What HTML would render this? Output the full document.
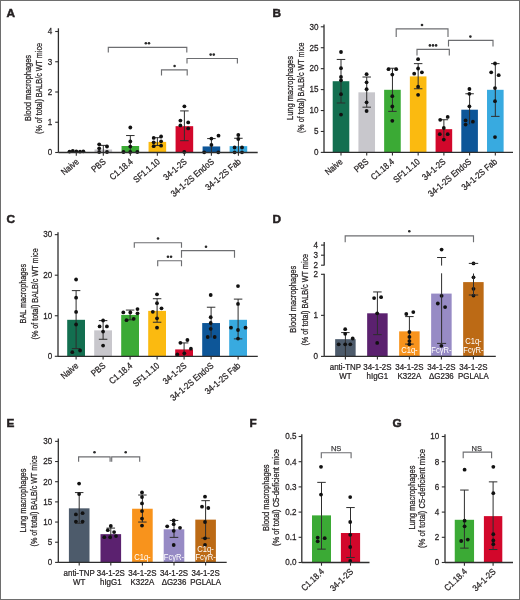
<!DOCTYPE html>
<html><head><meta charset="utf-8"><style>
html,body{margin:0;padding:0;background:#fff;}
body{width:520px;height:600px;overflow:hidden;}
svg{display:block;font-family:"Liberation Sans", sans-serif;will-change:transform;}
text{stroke-width:0.25px;}
</style></head><body>
<svg width="520" height="600" viewBox="0 0 520 600">
<rect x="0" y="0" width="520" height="600" fill="#fff"/>
<rect x="67.50" y="151.59" width="17.60" height="0.91" fill="#136f50"/>
<rect x="94.52" y="149.47" width="17.60" height="3.03" fill="#c8c7cc"/>
<rect x="121.54" y="146.00" width="17.60" height="6.50" fill="#3baa35"/>
<rect x="148.56" y="141.91" width="17.60" height="10.59" fill="#fbba10"/>
<rect x="175.58" y="126.18" width="17.60" height="26.32" fill="#d2072b"/>
<rect x="202.60" y="146.45" width="17.60" height="6.05" fill="#0d5698"/>
<rect x="229.62" y="146.15" width="17.60" height="6.35" fill="#38aae0"/>
<line x1="103.32" y1="145.39" x2="103.32" y2="152.50" stroke="#2e2e2e" stroke-width="1.0"/>
<line x1="99.07" y1="145.39" x2="107.57" y2="145.39" stroke="#2e2e2e" stroke-width="1.0"/>
<line x1="130.34" y1="135.56" x2="130.34" y2="152.50" stroke="#2e2e2e" stroke-width="1.0"/>
<line x1="126.09" y1="135.56" x2="134.59" y2="135.56" stroke="#2e2e2e" stroke-width="1.0"/>
<line x1="157.36" y1="137.68" x2="157.36" y2="145.54" stroke="#2e2e2e" stroke-width="1.0"/>
<line x1="153.11" y1="137.68" x2="161.61" y2="137.68" stroke="#2e2e2e" stroke-width="1.0"/>
<line x1="153.11" y1="145.54" x2="161.61" y2="145.54" stroke="#2e2e2e" stroke-width="1.0"/>
<line x1="184.38" y1="110.91" x2="184.38" y2="140.70" stroke="#2e2e2e" stroke-width="1.0"/>
<line x1="180.13" y1="110.91" x2="188.63" y2="110.91" stroke="#2e2e2e" stroke-width="1.0"/>
<line x1="180.13" y1="140.70" x2="188.63" y2="140.70" stroke="#2e2e2e" stroke-width="1.0"/>
<line x1="211.40" y1="138.59" x2="211.40" y2="152.50" stroke="#2e2e2e" stroke-width="1.0"/>
<line x1="207.15" y1="138.59" x2="215.65" y2="138.59" stroke="#2e2e2e" stroke-width="1.0"/>
<line x1="238.42" y1="138.28" x2="238.42" y2="152.50" stroke="#2e2e2e" stroke-width="1.0"/>
<line x1="234.17" y1="138.28" x2="242.67" y2="138.28" stroke="#2e2e2e" stroke-width="1.0"/>
<circle cx="69.50" cy="151.60" r="1.9" fill="#111"/>
<circle cx="72.80" cy="151.00" r="1.9" fill="#111"/>
<circle cx="76.30" cy="151.30" r="1.9" fill="#111"/>
<circle cx="80.00" cy="151.60" r="1.9" fill="#111"/>
<circle cx="83.30" cy="151.30" r="1.9" fill="#111"/>
<circle cx="99.20" cy="144.30" r="1.9" fill="#111"/>
<circle cx="99.20" cy="148.30" r="1.9" fill="#111"/>
<circle cx="99.20" cy="152.00" r="1.9" fill="#111"/>
<circle cx="107.00" cy="146.50" r="1.9" fill="#111"/>
<circle cx="107.00" cy="152.00" r="1.9" fill="#111"/>
<circle cx="130.30" cy="127.50" r="1.9" fill="#111"/>
<circle cx="130.30" cy="141.40" r="1.9" fill="#111"/>
<circle cx="130.30" cy="146.60" r="1.9" fill="#111"/>
<circle cx="123.50" cy="152.00" r="1.9" fill="#111"/>
<circle cx="130.30" cy="152.00" r="1.9" fill="#111"/>
<circle cx="137.30" cy="152.00" r="1.9" fill="#111"/>
<circle cx="153.70" cy="137.90" r="1.9" fill="#111"/>
<circle cx="161.10" cy="136.50" r="1.9" fill="#111"/>
<circle cx="153.70" cy="142.30" r="1.9" fill="#111"/>
<circle cx="161.10" cy="141.30" r="1.9" fill="#111"/>
<circle cx="153.70" cy="146.20" r="1.9" fill="#111"/>
<circle cx="161.10" cy="145.70" r="1.9" fill="#111"/>
<circle cx="184.40" cy="106.30" r="1.9" fill="#111"/>
<circle cx="180.40" cy="120.60" r="1.9" fill="#111"/>
<circle cx="188.20" cy="122.40" r="1.9" fill="#111"/>
<circle cx="180.40" cy="125.40" r="1.9" fill="#111"/>
<circle cx="188.20" cy="128.40" r="1.9" fill="#111"/>
<circle cx="184.30" cy="152.00" r="1.9" fill="#111"/>
<circle cx="211.40" cy="138.60" r="1.9" fill="#111"/>
<circle cx="218.50" cy="135.70" r="1.9" fill="#111"/>
<circle cx="211.40" cy="144.90" r="1.9" fill="#111"/>
<circle cx="204.20" cy="152.30" r="1.9" fill="#111"/>
<circle cx="218.30" cy="152.30" r="1.9" fill="#111"/>
<circle cx="238.30" cy="135.00" r="1.9" fill="#111"/>
<circle cx="238.30" cy="139.00" r="1.9" fill="#111"/>
<circle cx="234.60" cy="147.50" r="1.9" fill="#111"/>
<circle cx="242.00" cy="147.50" r="1.9" fill="#111"/>
<circle cx="234.60" cy="152.30" r="1.9" fill="#111"/>
<circle cx="242.00" cy="152.30" r="1.9" fill="#111"/>
<line x1="58.40" y1="152.50" x2="257.70" y2="152.50" stroke="#2e2e2e" stroke-width="1.3"/>
<line x1="58.40" y1="28.30" x2="58.40" y2="152.50" stroke="#2e2e2e" stroke-width="1.3"/>
<line x1="55.20" y1="152.50" x2="58.40" y2="152.50" stroke="#2e2e2e" stroke-width="1.1"/>
<text x="0" y="0" font-size="9.3" text-anchor="end" fill="#231f20" stroke="#231f20" transform="translate(52.30 155.30) scale(0.87 1)">0</text>
<line x1="55.20" y1="122.25" x2="58.40" y2="122.25" stroke="#2e2e2e" stroke-width="1.1"/>
<text x="0" y="0" font-size="9.3" text-anchor="end" fill="#231f20" stroke="#231f20" transform="translate(52.30 125.05) scale(0.87 1)">1</text>
<line x1="55.20" y1="92.00" x2="58.40" y2="92.00" stroke="#2e2e2e" stroke-width="1.1"/>
<text x="0" y="0" font-size="9.3" text-anchor="end" fill="#231f20" stroke="#231f20" transform="translate(52.30 94.80) scale(0.87 1)">2</text>
<line x1="55.20" y1="61.75" x2="58.40" y2="61.75" stroke="#2e2e2e" stroke-width="1.1"/>
<text x="0" y="0" font-size="9.3" text-anchor="end" fill="#231f20" stroke="#231f20" transform="translate(52.30 64.55) scale(0.87 1)">3</text>
<line x1="55.20" y1="31.50" x2="58.40" y2="31.50" stroke="#2e2e2e" stroke-width="1.1"/>
<text x="0" y="0" font-size="9.3" text-anchor="end" fill="#231f20" stroke="#231f20" transform="translate(52.30 34.30) scale(0.87 1)">4</text>
<line x1="76.30" y1="152.50" x2="76.30" y2="155.70" stroke="#2e2e2e" stroke-width="1.1"/>
<line x1="103.32" y1="152.50" x2="103.32" y2="155.70" stroke="#2e2e2e" stroke-width="1.1"/>
<line x1="130.34" y1="152.50" x2="130.34" y2="155.70" stroke="#2e2e2e" stroke-width="1.1"/>
<line x1="157.36" y1="152.50" x2="157.36" y2="155.70" stroke="#2e2e2e" stroke-width="1.1"/>
<line x1="184.38" y1="152.50" x2="184.38" y2="155.70" stroke="#2e2e2e" stroke-width="1.1"/>
<line x1="211.40" y1="152.50" x2="211.40" y2="155.70" stroke="#2e2e2e" stroke-width="1.1"/>
<line x1="238.42" y1="152.50" x2="238.42" y2="155.70" stroke="#2e2e2e" stroke-width="1.1"/>
<polyline points="108.30,52.50 108.30,47.30 186.80,47.30 186.80,52.50" fill="none" stroke="#6d6e71" stroke-width="1.15"/>
<circle cx="145.85" cy="43.20" r="1.3" fill="#2a2a2a"/>
<circle cx="148.95" cy="43.20" r="1.3" fill="#2a2a2a"/>
<polyline points="187.00,63.60 187.00,58.50 237.40,58.50 237.40,63.60" fill="none" stroke="#6d6e71" stroke-width="1.15"/>
<circle cx="210.65" cy="54.60" r="1.3" fill="#2a2a2a"/>
<circle cx="213.75" cy="54.60" r="1.3" fill="#2a2a2a"/>
<polyline points="161.50,75.40 161.50,69.80 187.20,69.80 187.20,75.40" fill="none" stroke="#6d6e71" stroke-width="1.15"/>
<circle cx="174.60" cy="66.00" r="1.3" fill="#2a2a2a"/>
<text x="30.50" y="88.00" font-size="9.3" text-anchor="middle" fill="#231f20" stroke="#231f20" font-weight="normal" textLength="66" lengthAdjust="spacingAndGlyphs" transform="rotate(-90 30.50 88.00)">Blood macrophages</text>
<text x="42.00" y="88.50" font-size="9.3" text-anchor="middle" fill="#231f20" stroke="#231f20" font-weight="normal" textLength="91" lengthAdjust="spacingAndGlyphs" transform="rotate(-90 42.00 88.50)">(% of total) BALB/c WT mice</text>
<text x="0" y="0" font-size="9" text-anchor="end" fill="#231f20" stroke="#231f20" transform="translate(79.50 162.60) rotate(-40.5) scale(0.87 1)">Naive</text>
<text x="0" y="0" font-size="9" text-anchor="end" fill="#231f20" stroke="#231f20" transform="translate(106.52 162.60) rotate(-40.5) scale(0.87 1)">PBS</text>
<text x="0" y="0" font-size="9" text-anchor="end" fill="#231f20" stroke="#231f20" transform="translate(133.54 162.60) rotate(-40.5) scale(0.87 1)">C1.18.4</text>
<text x="0" y="0" font-size="9" text-anchor="end" fill="#231f20" stroke="#231f20" transform="translate(160.56 162.60) rotate(-40.5) scale(0.87 1)">SF1.1.10</text>
<text x="0" y="0" font-size="9" text-anchor="end" fill="#231f20" stroke="#231f20" transform="translate(187.58 162.60) rotate(-40.5) scale(0.87 1)">34-1-2S</text>
<text x="0" y="0" font-size="9" text-anchor="end" fill="#231f20" stroke="#231f20" transform="translate(214.60 162.60) rotate(-40.5) scale(0.87 1)">34-1-2S EndoS</text>
<text x="0" y="0" font-size="9" text-anchor="end" fill="#231f20" stroke="#231f20" transform="translate(241.62 162.60) rotate(-40.5) scale(0.87 1)">34-1-2S Fab</text>
<text x="6.50" y="16.60" font-size="11.8" text-anchor="start" fill="#231f20" stroke="#231f20" font-weight="bold" style="stroke-width:0.5px">A</text>
<rect x="332.70" y="81.22" width="16.60" height="71.18" fill="#136f50"/>
<rect x="358.42" y="92.32" width="16.60" height="60.08" fill="#c8c7cc"/>
<rect x="384.14" y="89.80" width="16.60" height="62.60" fill="#3baa35"/>
<rect x="409.86" y="76.41" width="16.60" height="75.99" fill="#fbba10"/>
<rect x="435.58" y="129.16" width="16.60" height="23.24" fill="#d2072b"/>
<rect x="461.30" y="109.69" width="16.60" height="42.71" fill="#0d5698"/>
<rect x="487.02" y="89.80" width="16.60" height="62.60" fill="#38aae0"/>
<line x1="341.00" y1="59.45" x2="341.00" y2="102.99" stroke="#2e2e2e" stroke-width="1.0"/>
<line x1="336.75" y1="59.45" x2="345.25" y2="59.45" stroke="#2e2e2e" stroke-width="1.0"/>
<line x1="336.75" y1="102.99" x2="345.25" y2="102.99" stroke="#2e2e2e" stroke-width="1.0"/>
<line x1="366.72" y1="77.03" x2="366.72" y2="107.18" stroke="#2e2e2e" stroke-width="1.0"/>
<line x1="362.47" y1="77.03" x2="370.97" y2="77.03" stroke="#2e2e2e" stroke-width="1.0"/>
<line x1="362.47" y1="107.18" x2="370.97" y2="107.18" stroke="#2e2e2e" stroke-width="1.0"/>
<line x1="392.44" y1="68.24" x2="392.44" y2="111.37" stroke="#2e2e2e" stroke-width="1.0"/>
<line x1="388.19" y1="68.24" x2="396.69" y2="68.24" stroke="#2e2e2e" stroke-width="1.0"/>
<line x1="388.19" y1="111.37" x2="396.69" y2="111.37" stroke="#2e2e2e" stroke-width="1.0"/>
<line x1="418.16" y1="63.64" x2="418.16" y2="88.76" stroke="#2e2e2e" stroke-width="1.0"/>
<line x1="413.91" y1="63.64" x2="422.41" y2="63.64" stroke="#2e2e2e" stroke-width="1.0"/>
<line x1="413.91" y1="88.76" x2="422.41" y2="88.76" stroke="#2e2e2e" stroke-width="1.0"/>
<line x1="443.88" y1="119.74" x2="443.88" y2="137.75" stroke="#2e2e2e" stroke-width="1.0"/>
<line x1="439.63" y1="119.74" x2="448.13" y2="119.74" stroke="#2e2e2e" stroke-width="1.0"/>
<line x1="469.60" y1="93.78" x2="469.60" y2="124.35" stroke="#2e2e2e" stroke-width="1.0"/>
<line x1="465.35" y1="93.78" x2="473.85" y2="93.78" stroke="#2e2e2e" stroke-width="1.0"/>
<line x1="495.32" y1="63.64" x2="495.32" y2="116.39" stroke="#2e2e2e" stroke-width="1.0"/>
<line x1="491.07" y1="63.64" x2="499.57" y2="63.64" stroke="#2e2e2e" stroke-width="1.0"/>
<line x1="491.07" y1="116.39" x2="499.57" y2="116.39" stroke="#2e2e2e" stroke-width="1.0"/>
<circle cx="341.00" cy="52.00" r="1.9" fill="#111"/>
<circle cx="341.00" cy="68.20" r="1.9" fill="#111"/>
<circle cx="341.00" cy="76.90" r="1.9" fill="#111"/>
<circle cx="341.00" cy="80.30" r="1.9" fill="#111"/>
<circle cx="341.00" cy="94.20" r="1.9" fill="#111"/>
<circle cx="341.00" cy="114.60" r="1.9" fill="#111"/>
<circle cx="366.60" cy="74.20" r="1.9" fill="#111"/>
<circle cx="366.60" cy="82.30" r="1.9" fill="#111"/>
<circle cx="366.60" cy="89.20" r="1.9" fill="#111"/>
<circle cx="366.60" cy="102.30" r="1.9" fill="#111"/>
<circle cx="366.60" cy="111.00" r="1.9" fill="#111"/>
<circle cx="388.50" cy="69.20" r="1.9" fill="#111"/>
<circle cx="396.20" cy="69.20" r="1.9" fill="#111"/>
<circle cx="392.30" cy="74.60" r="1.9" fill="#111"/>
<circle cx="392.30" cy="96.20" r="1.9" fill="#111"/>
<circle cx="392.30" cy="106.50" r="1.9" fill="#111"/>
<circle cx="392.30" cy="120.80" r="1.9" fill="#111"/>
<circle cx="418.10" cy="59.20" r="1.9" fill="#111"/>
<circle cx="418.10" cy="68.50" r="1.9" fill="#111"/>
<circle cx="414.20" cy="73.70" r="1.9" fill="#111"/>
<circle cx="421.90" cy="72.30" r="1.9" fill="#111"/>
<circle cx="418.10" cy="86.70" r="1.9" fill="#111"/>
<circle cx="418.10" cy="94.80" r="1.9" fill="#111"/>
<circle cx="440.20" cy="119.80" r="1.9" fill="#111"/>
<circle cx="447.70" cy="116.90" r="1.9" fill="#111"/>
<circle cx="443.80" cy="128.00" r="1.9" fill="#111"/>
<circle cx="439.80" cy="134.20" r="1.9" fill="#111"/>
<circle cx="447.70" cy="134.20" r="1.9" fill="#111"/>
<circle cx="443.80" cy="139.60" r="1.9" fill="#111"/>
<circle cx="469.40" cy="89.00" r="1.9" fill="#111"/>
<circle cx="469.40" cy="93.80" r="1.9" fill="#111"/>
<circle cx="469.40" cy="106.30" r="1.9" fill="#111"/>
<circle cx="465.60" cy="120.40" r="1.9" fill="#111"/>
<circle cx="472.90" cy="121.70" r="1.9" fill="#111"/>
<circle cx="465.60" cy="124.60" r="1.9" fill="#111"/>
<circle cx="495.00" cy="63.50" r="1.9" fill="#111"/>
<circle cx="491.20" cy="72.30" r="1.9" fill="#111"/>
<circle cx="498.70" cy="75.20" r="1.9" fill="#111"/>
<circle cx="495.00" cy="88.10" r="1.9" fill="#111"/>
<circle cx="495.00" cy="101.20" r="1.9" fill="#111"/>
<circle cx="495.00" cy="137.10" r="1.9" fill="#111"/>
<line x1="324.00" y1="152.40" x2="513.00" y2="152.40" stroke="#2e2e2e" stroke-width="1.3"/>
<line x1="324.00" y1="24.60" x2="324.00" y2="152.40" stroke="#2e2e2e" stroke-width="1.3"/>
<line x1="320.80" y1="152.40" x2="324.00" y2="152.40" stroke="#2e2e2e" stroke-width="1.1"/>
<text x="0" y="0" font-size="9.3" text-anchor="end" fill="#231f20" stroke="#231f20" transform="translate(318.50 155.20) scale(0.87 1)">0</text>
<line x1="320.80" y1="131.47" x2="324.00" y2="131.47" stroke="#2e2e2e" stroke-width="1.1"/>
<text x="0" y="0" font-size="9.3" text-anchor="end" fill="#231f20" stroke="#231f20" transform="translate(318.50 134.27) scale(0.87 1)">5</text>
<line x1="320.80" y1="110.53" x2="324.00" y2="110.53" stroke="#2e2e2e" stroke-width="1.1"/>
<text x="0" y="0" font-size="9.3" text-anchor="end" fill="#231f20" stroke="#231f20" transform="translate(318.50 113.33) scale(0.87 1)">10</text>
<line x1="320.80" y1="89.59" x2="324.00" y2="89.59" stroke="#2e2e2e" stroke-width="1.1"/>
<text x="0" y="0" font-size="9.3" text-anchor="end" fill="#231f20" stroke="#231f20" transform="translate(318.50 92.39) scale(0.87 1)">15</text>
<line x1="320.80" y1="68.66" x2="324.00" y2="68.66" stroke="#2e2e2e" stroke-width="1.1"/>
<text x="0" y="0" font-size="9.3" text-anchor="end" fill="#231f20" stroke="#231f20" transform="translate(318.50 71.46) scale(0.87 1)">20</text>
<line x1="320.80" y1="47.72" x2="324.00" y2="47.72" stroke="#2e2e2e" stroke-width="1.1"/>
<text x="0" y="0" font-size="9.3" text-anchor="end" fill="#231f20" stroke="#231f20" transform="translate(318.50 50.52) scale(0.87 1)">25</text>
<line x1="320.80" y1="26.79" x2="324.00" y2="26.79" stroke="#2e2e2e" stroke-width="1.1"/>
<text x="0" y="0" font-size="9.3" text-anchor="end" fill="#231f20" stroke="#231f20" transform="translate(318.50 29.59) scale(0.87 1)">30</text>
<line x1="341.00" y1="152.40" x2="341.00" y2="155.60" stroke="#2e2e2e" stroke-width="1.1"/>
<line x1="366.72" y1="152.40" x2="366.72" y2="155.60" stroke="#2e2e2e" stroke-width="1.1"/>
<line x1="392.44" y1="152.40" x2="392.44" y2="155.60" stroke="#2e2e2e" stroke-width="1.1"/>
<line x1="418.16" y1="152.40" x2="418.16" y2="155.60" stroke="#2e2e2e" stroke-width="1.1"/>
<line x1="443.88" y1="152.40" x2="443.88" y2="155.60" stroke="#2e2e2e" stroke-width="1.1"/>
<line x1="469.60" y1="152.40" x2="469.60" y2="155.60" stroke="#2e2e2e" stroke-width="1.1"/>
<line x1="495.32" y1="152.40" x2="495.32" y2="155.60" stroke="#2e2e2e" stroke-width="1.1"/>
<polyline points="396.20,36.90 396.20,28.80 448.00,28.80 448.00,36.90" fill="none" stroke="#6d6e71" stroke-width="1.15"/>
<circle cx="422.00" cy="25.00" r="1.3" fill="#2a2a2a"/>
<polyline points="417.00,55.50 417.00,49.40 449.30,49.40 449.30,55.50" fill="none" stroke="#6d6e71" stroke-width="1.15"/>
<circle cx="429.90" cy="45.40" r="1.3" fill="#2a2a2a"/>
<circle cx="433.00" cy="45.40" r="1.3" fill="#2a2a2a"/>
<circle cx="436.10" cy="45.40" r="1.3" fill="#2a2a2a"/>
<polyline points="448.50,46.50 448.50,40.40 493.00,40.40 493.00,46.50" fill="none" stroke="#6d6e71" stroke-width="1.15"/>
<circle cx="470.40" cy="36.60" r="1.3" fill="#2a2a2a"/>
<text x="292.50" y="88.00" font-size="9.3" text-anchor="middle" fill="#231f20" stroke="#231f20" font-weight="normal" textLength="64" lengthAdjust="spacingAndGlyphs" transform="rotate(-90 292.50 88.00)">Lung macrophages</text>
<text x="304.00" y="87.70" font-size="9.3" text-anchor="middle" fill="#231f20" stroke="#231f20" font-weight="normal" textLength="90.6" lengthAdjust="spacingAndGlyphs" transform="rotate(-90 304.00 87.70)">(% of total) BALB/c WT mice</text>
<text x="0" y="0" font-size="9" text-anchor="end" fill="#231f20" stroke="#231f20" transform="translate(343.40 162.60) rotate(-40.5) scale(0.87 1)">Naive</text>
<text x="0" y="0" font-size="9" text-anchor="end" fill="#231f20" stroke="#231f20" transform="translate(369.12 162.60) rotate(-40.5) scale(0.87 1)">PBS</text>
<text x="0" y="0" font-size="9" text-anchor="end" fill="#231f20" stroke="#231f20" transform="translate(394.84 162.60) rotate(-40.5) scale(0.87 1)">C1.18.4</text>
<text x="0" y="0" font-size="9" text-anchor="end" fill="#231f20" stroke="#231f20" transform="translate(420.56 162.60) rotate(-40.5) scale(0.87 1)">SF1.1.10</text>
<text x="0" y="0" font-size="9" text-anchor="end" fill="#231f20" stroke="#231f20" transform="translate(446.28 162.60) rotate(-40.5) scale(0.87 1)">34-1-2S</text>
<text x="0" y="0" font-size="9" text-anchor="end" fill="#231f20" stroke="#231f20" transform="translate(472.00 162.60) rotate(-40.5) scale(0.87 1)">34-1-2S EndoS</text>
<text x="0" y="0" font-size="9" text-anchor="end" fill="#231f20" stroke="#231f20" transform="translate(497.72 162.60) rotate(-40.5) scale(0.87 1)">34-1-2S Fab</text>
<text x="272.50" y="16.60" font-size="11.8" text-anchor="start" fill="#231f20" stroke="#231f20" font-weight="bold" style="stroke-width:0.5px">B</text>
<rect x="67.20" y="319.81" width="17.80" height="36.50" fill="#136f50"/>
<rect x="94.20" y="330.35" width="17.80" height="25.95" fill="#c8c7cc"/>
<rect x="121.20" y="314.94" width="17.80" height="41.36" fill="#3baa35"/>
<rect x="148.20" y="310.88" width="17.80" height="45.42" fill="#fbba10"/>
<rect x="175.20" y="349.41" width="17.80" height="6.89" fill="#d2072b"/>
<rect x="202.20" y="323.05" width="17.80" height="33.25" fill="#0d5698"/>
<rect x="229.20" y="319.81" width="17.80" height="36.50" fill="#38aae0"/>
<line x1="76.10" y1="290.61" x2="76.10" y2="348.60" stroke="#2e2e2e" stroke-width="1.0"/>
<line x1="71.85" y1="290.61" x2="80.35" y2="290.61" stroke="#2e2e2e" stroke-width="1.0"/>
<line x1="71.85" y1="348.60" x2="80.35" y2="348.60" stroke="#2e2e2e" stroke-width="1.0"/>
<line x1="103.10" y1="320.62" x2="103.10" y2="339.27" stroke="#2e2e2e" stroke-width="1.0"/>
<line x1="98.85" y1="320.62" x2="107.35" y2="320.62" stroke="#2e2e2e" stroke-width="1.0"/>
<line x1="98.85" y1="339.27" x2="107.35" y2="339.27" stroke="#2e2e2e" stroke-width="1.0"/>
<line x1="130.10" y1="310.07" x2="130.10" y2="319.81" stroke="#2e2e2e" stroke-width="1.0"/>
<line x1="125.85" y1="310.07" x2="134.35" y2="310.07" stroke="#2e2e2e" stroke-width="1.0"/>
<line x1="125.85" y1="319.81" x2="134.35" y2="319.81" stroke="#2e2e2e" stroke-width="1.0"/>
<line x1="157.10" y1="298.72" x2="157.10" y2="322.24" stroke="#2e2e2e" stroke-width="1.0"/>
<line x1="152.85" y1="298.72" x2="161.35" y2="298.72" stroke="#2e2e2e" stroke-width="1.0"/>
<line x1="152.85" y1="322.24" x2="161.35" y2="322.24" stroke="#2e2e2e" stroke-width="1.0"/>
<line x1="184.10" y1="342.92" x2="184.10" y2="356.30" stroke="#2e2e2e" stroke-width="1.0"/>
<line x1="179.85" y1="342.92" x2="188.35" y2="342.92" stroke="#2e2e2e" stroke-width="1.0"/>
<line x1="211.10" y1="307.23" x2="211.10" y2="337.65" stroke="#2e2e2e" stroke-width="1.0"/>
<line x1="206.85" y1="307.23" x2="215.35" y2="307.23" stroke="#2e2e2e" stroke-width="1.0"/>
<line x1="238.10" y1="299.12" x2="238.10" y2="338.86" stroke="#2e2e2e" stroke-width="1.0"/>
<line x1="233.85" y1="299.12" x2="242.35" y2="299.12" stroke="#2e2e2e" stroke-width="1.0"/>
<line x1="233.85" y1="338.86" x2="242.35" y2="338.86" stroke="#2e2e2e" stroke-width="1.0"/>
<circle cx="76.10" cy="279.50" r="1.9" fill="#111"/>
<circle cx="76.10" cy="297.70" r="1.9" fill="#111"/>
<circle cx="76.10" cy="311.90" r="1.9" fill="#111"/>
<circle cx="76.10" cy="324.50" r="1.9" fill="#111"/>
<circle cx="72.30" cy="352.20" r="1.9" fill="#111"/>
<circle cx="80.10" cy="350.50" r="1.9" fill="#111"/>
<circle cx="103.10" cy="320.50" r="1.9" fill="#111"/>
<circle cx="99.60" cy="326.40" r="1.9" fill="#111"/>
<circle cx="106.90" cy="326.40" r="1.9" fill="#111"/>
<circle cx="103.10" cy="331.60" r="1.9" fill="#111"/>
<circle cx="103.10" cy="345.60" r="1.9" fill="#111"/>
<circle cx="123.30" cy="312.40" r="1.9" fill="#111"/>
<circle cx="130.30" cy="312.40" r="1.9" fill="#111"/>
<circle cx="137.50" cy="309.10" r="1.9" fill="#111"/>
<circle cx="137.50" cy="313.30" r="1.9" fill="#111"/>
<circle cx="126.50" cy="320.20" r="1.9" fill="#111"/>
<circle cx="133.70" cy="318.80" r="1.9" fill="#111"/>
<circle cx="157.00" cy="294.30" r="1.9" fill="#111"/>
<circle cx="157.00" cy="303.20" r="1.9" fill="#111"/>
<circle cx="152.80" cy="311.80" r="1.9" fill="#111"/>
<circle cx="161.50" cy="308.30" r="1.9" fill="#111"/>
<circle cx="157.00" cy="318.30" r="1.9" fill="#111"/>
<circle cx="157.00" cy="327.70" r="1.9" fill="#111"/>
<circle cx="180.40" cy="342.80" r="1.9" fill="#111"/>
<circle cx="187.40" cy="340.00" r="1.9" fill="#111"/>
<circle cx="190.90" cy="348.70" r="1.9" fill="#111"/>
<circle cx="177.30" cy="354.50" r="1.9" fill="#111"/>
<circle cx="184.30" cy="353.30" r="1.9" fill="#111"/>
<circle cx="210.70" cy="295.00" r="1.9" fill="#111"/>
<circle cx="210.70" cy="317.20" r="1.9" fill="#111"/>
<circle cx="210.70" cy="323.00" r="1.9" fill="#111"/>
<circle cx="210.70" cy="328.80" r="1.9" fill="#111"/>
<circle cx="207.70" cy="337.00" r="1.9" fill="#111"/>
<circle cx="214.70" cy="337.00" r="1.9" fill="#111"/>
<circle cx="238.00" cy="286.10" r="1.9" fill="#111"/>
<circle cx="238.00" cy="303.90" r="1.9" fill="#111"/>
<circle cx="231.00" cy="327.70" r="1.9" fill="#111"/>
<circle cx="245.50" cy="327.70" r="1.9" fill="#111"/>
<circle cx="238.00" cy="330.00" r="1.9" fill="#111"/>
<circle cx="238.00" cy="338.60" r="1.9" fill="#111"/>
<line x1="58.00" y1="356.30" x2="257.80" y2="356.30" stroke="#2e2e2e" stroke-width="1.3"/>
<line x1="58.00" y1="232.30" x2="58.00" y2="356.30" stroke="#2e2e2e" stroke-width="1.3"/>
<line x1="54.80" y1="356.30" x2="58.00" y2="356.30" stroke="#2e2e2e" stroke-width="1.1"/>
<text x="0" y="0" font-size="9.3" text-anchor="end" fill="#231f20" stroke="#231f20" transform="translate(52.20 359.10) scale(0.87 1)">0</text>
<line x1="54.80" y1="315.75" x2="58.00" y2="315.75" stroke="#2e2e2e" stroke-width="1.1"/>
<text x="0" y="0" font-size="9.3" text-anchor="end" fill="#231f20" stroke="#231f20" transform="translate(52.20 318.55) scale(0.87 1)">10</text>
<line x1="54.80" y1="275.20" x2="58.00" y2="275.20" stroke="#2e2e2e" stroke-width="1.1"/>
<text x="0" y="0" font-size="9.3" text-anchor="end" fill="#231f20" stroke="#231f20" transform="translate(52.20 278.00) scale(0.87 1)">20</text>
<line x1="54.80" y1="234.65" x2="58.00" y2="234.65" stroke="#2e2e2e" stroke-width="1.1"/>
<text x="0" y="0" font-size="9.3" text-anchor="end" fill="#231f20" stroke="#231f20" transform="translate(52.20 237.45) scale(0.87 1)">30</text>
<line x1="76.10" y1="356.30" x2="76.10" y2="359.50" stroke="#2e2e2e" stroke-width="1.1"/>
<line x1="103.10" y1="356.30" x2="103.10" y2="359.50" stroke="#2e2e2e" stroke-width="1.1"/>
<line x1="130.10" y1="356.30" x2="130.10" y2="359.50" stroke="#2e2e2e" stroke-width="1.1"/>
<line x1="157.10" y1="356.30" x2="157.10" y2="359.50" stroke="#2e2e2e" stroke-width="1.1"/>
<line x1="184.10" y1="356.30" x2="184.10" y2="359.50" stroke="#2e2e2e" stroke-width="1.1"/>
<line x1="211.10" y1="356.30" x2="211.10" y2="359.50" stroke="#2e2e2e" stroke-width="1.1"/>
<line x1="238.10" y1="356.30" x2="238.10" y2="359.50" stroke="#2e2e2e" stroke-width="1.1"/>
<polyline points="134.30,247.80 134.30,242.70 181.50,242.70 181.50,247.80" fill="none" stroke="#6d6e71" stroke-width="1.15"/>
<circle cx="158.00" cy="238.50" r="1.3" fill="#2a2a2a"/>
<polyline points="157.70,266.30 157.70,260.70 181.50,260.70 181.50,266.30" fill="none" stroke="#6d6e71" stroke-width="1.15"/>
<circle cx="167.95" cy="256.80" r="1.3" fill="#2a2a2a"/>
<circle cx="171.05" cy="256.80" r="1.3" fill="#2a2a2a"/>
<polyline points="181.50,257.80 181.50,250.60 234.50,250.60 234.50,257.80" fill="none" stroke="#6d6e71" stroke-width="1.15"/>
<circle cx="206.00" cy="246.70" r="1.3" fill="#2a2a2a"/>
<text x="26.20" y="293.70" font-size="9.3" text-anchor="middle" fill="#231f20" stroke="#231f20" font-weight="normal" textLength="59.5" lengthAdjust="spacingAndGlyphs" transform="rotate(-90 26.20 293.70)">BAL macrophages</text>
<text x="37.60" y="293.90" font-size="9.3" text-anchor="middle" fill="#231f20" stroke="#231f20" font-weight="normal" textLength="91.2" lengthAdjust="spacingAndGlyphs" transform="rotate(-90 37.60 293.90)">(% of total) BALB/c WT mice</text>
<text x="0" y="0" font-size="9" text-anchor="end" fill="#231f20" stroke="#231f20" transform="translate(79.10 366.60) rotate(-40.5) scale(0.87 1)">Naive</text>
<text x="0" y="0" font-size="9" text-anchor="end" fill="#231f20" stroke="#231f20" transform="translate(106.10 366.60) rotate(-40.5) scale(0.87 1)">PBS</text>
<text x="0" y="0" font-size="9" text-anchor="end" fill="#231f20" stroke="#231f20" transform="translate(133.10 366.60) rotate(-40.5) scale(0.87 1)">C1.18.4</text>
<text x="0" y="0" font-size="9" text-anchor="end" fill="#231f20" stroke="#231f20" transform="translate(160.10 366.60) rotate(-40.5) scale(0.87 1)">SF1.1.10</text>
<text x="0" y="0" font-size="9" text-anchor="end" fill="#231f20" stroke="#231f20" transform="translate(187.10 366.60) rotate(-40.5) scale(0.87 1)">34-1-2S</text>
<text x="0" y="0" font-size="9" text-anchor="end" fill="#231f20" stroke="#231f20" transform="translate(214.10 366.60) rotate(-40.5) scale(0.87 1)">34-1-2S EndoS</text>
<text x="0" y="0" font-size="9" text-anchor="end" fill="#231f20" stroke="#231f20" transform="translate(241.10 366.60) rotate(-40.5) scale(0.87 1)">34-1-2S Fab</text>
<text x="6.50" y="222.80" font-size="11.8" text-anchor="start" fill="#231f20" stroke="#231f20" font-weight="bold" style="stroke-width:0.5px">C</text>
<rect x="335.15" y="339.16" width="20.50" height="17.24" fill="#4d5b6b"/>
<rect x="367.15" y="313.30" width="20.50" height="43.10" fill="#5b216f"/>
<rect x="399.15" y="331.36" width="20.50" height="25.04" fill="#f8931c"/>
<rect x="431.15" y="293.59" width="20.50" height="62.81" fill="#978bc5"/>
<rect x="463.15" y="282.10" width="20.50" height="74.30" fill="#bc6a15"/>
<line x1="345.40" y1="332.59" x2="345.40" y2="356.40" stroke="#2e2e2e" stroke-width="1.0"/>
<line x1="341.15" y1="332.59" x2="349.65" y2="332.59" stroke="#2e2e2e" stroke-width="1.0"/>
<line x1="377.40" y1="291.95" x2="377.40" y2="334.64" stroke="#2e2e2e" stroke-width="1.0"/>
<line x1="373.15" y1="291.95" x2="381.65" y2="291.95" stroke="#2e2e2e" stroke-width="1.0"/>
<line x1="373.15" y1="334.64" x2="381.65" y2="334.64" stroke="#2e2e2e" stroke-width="1.0"/>
<line x1="409.40" y1="316.58" x2="409.40" y2="344.08" stroke="#2e2e2e" stroke-width="1.0"/>
<line x1="405.15" y1="316.58" x2="413.65" y2="316.58" stroke="#2e2e2e" stroke-width="1.0"/>
<line x1="405.15" y1="344.08" x2="413.65" y2="344.08" stroke="#2e2e2e" stroke-width="1.0"/>
<circle cx="345.20" cy="329.20" r="1.9" fill="#111"/>
<circle cx="345.20" cy="333.80" r="1.9" fill="#111"/>
<circle cx="352.70" cy="338.50" r="1.9" fill="#111"/>
<circle cx="338.70" cy="344.30" r="1.9" fill="#111"/>
<circle cx="345.20" cy="344.30" r="1.9" fill="#111"/>
<circle cx="350.30" cy="344.30" r="1.9" fill="#111"/>
<circle cx="374.10" cy="298.10" r="1.9" fill="#111"/>
<circle cx="381.10" cy="297.20" r="1.9" fill="#111"/>
<circle cx="377.20" cy="313.30" r="1.9" fill="#111"/>
<circle cx="377.20" cy="342.90" r="1.9" fill="#111"/>
<circle cx="406.30" cy="314.00" r="1.9" fill="#111"/>
<circle cx="413.30" cy="312.10" r="1.9" fill="#111"/>
<circle cx="409.40" cy="332.00" r="1.9" fill="#111"/>
<circle cx="409.40" cy="336.90" r="1.9" fill="#111"/>
<circle cx="409.40" cy="341.10" r="1.9" fill="#111"/>
<circle cx="409.40" cy="344.30" r="1.9" fill="#111"/>
<circle cx="441.60" cy="249.60" r="1.9" fill="#111"/>
<circle cx="441.60" cy="295.80" r="1.9" fill="#111"/>
<circle cx="437.80" cy="303.50" r="1.9" fill="#111"/>
<circle cx="445.10" cy="307.10" r="1.9" fill="#111"/>
<circle cx="441.40" cy="345.80" r="1.9" fill="#111"/>
<circle cx="473.50" cy="263.40" r="1.9" fill="#111"/>
<circle cx="473.50" cy="277.30" r="1.9" fill="#111"/>
<circle cx="473.50" cy="288.80" r="1.9" fill="#111"/>
<circle cx="473.50" cy="295.60" r="1.9" fill="#111"/>
<line x1="324.20" y1="356.40" x2="495.80" y2="356.40" stroke="#2e2e2e" stroke-width="1.3"/>
<line x1="324.20" y1="242.10" x2="324.20" y2="265.40" stroke="#2e2e2e" stroke-width="1.3"/>
<line x1="324.20" y1="273.80" x2="324.20" y2="356.40" stroke="#2e2e2e" stroke-width="1.3"/>
<line x1="321.00" y1="356.40" x2="324.20" y2="356.40" stroke="#2e2e2e" stroke-width="1.1"/>
<text x="0" y="0" font-size="9.3" text-anchor="end" fill="#231f20" stroke="#231f20" transform="translate(318.00 359.20) scale(0.87 1)">0</text>
<line x1="321.00" y1="315.35" x2="324.20" y2="315.35" stroke="#2e2e2e" stroke-width="1.1"/>
<text x="0" y="0" font-size="9.3" text-anchor="end" fill="#231f20" stroke="#231f20" transform="translate(318.00 318.15) scale(0.87 1)">1</text>
<line x1="321.00" y1="274.30" x2="324.20" y2="274.30" stroke="#2e2e2e" stroke-width="1.1"/>
<text x="0" y="0" font-size="9.3" text-anchor="end" fill="#231f20" stroke="#231f20" transform="translate(318.00 277.10) scale(0.87 1)">2</text>
<line x1="321.00" y1="265.20" x2="324.20" y2="265.20" stroke="#2e2e2e" stroke-width="1.1"/>
<text x="0" y="0" font-size="9.3" text-anchor="end" fill="#231f20" stroke="#231f20" transform="translate(318.00 268.00) scale(0.87 1)">2</text>
<line x1="321.00" y1="255.20" x2="324.20" y2="255.20" stroke="#2e2e2e" stroke-width="1.1"/>
<text x="0" y="0" font-size="9.3" text-anchor="end" fill="#231f20" stroke="#231f20" transform="translate(318.00 258.00) scale(0.87 1)">3</text>
<line x1="321.00" y1="245.10" x2="324.20" y2="245.10" stroke="#2e2e2e" stroke-width="1.1"/>
<text x="0" y="0" font-size="9.3" text-anchor="end" fill="#231f20" stroke="#231f20" transform="translate(318.00 247.90) scale(0.87 1)">4</text>
<line x1="345.40" y1="356.40" x2="345.40" y2="359.60" stroke="#2e2e2e" stroke-width="1.1"/>
<line x1="377.40" y1="356.40" x2="377.40" y2="359.60" stroke="#2e2e2e" stroke-width="1.1"/>
<line x1="409.40" y1="356.40" x2="409.40" y2="359.60" stroke="#2e2e2e" stroke-width="1.1"/>
<line x1="441.40" y1="356.40" x2="441.40" y2="359.60" stroke="#2e2e2e" stroke-width="1.1"/>
<line x1="473.40" y1="356.40" x2="473.40" y2="359.60" stroke="#2e2e2e" stroke-width="1.1"/>
<line x1="441.60" y1="257.50" x2="441.60" y2="265.60" stroke="#2e2e2e" stroke-width="1.0"/>
<line x1="441.60" y1="273.30" x2="441.60" y2="343.40" stroke="#2e2e2e" stroke-width="1.0"/>
<line x1="437.10" y1="257.50" x2="446.10" y2="257.50" stroke="#2e2e2e" stroke-width="1.0"/>
<line x1="437.10" y1="343.40" x2="446.10" y2="343.40" stroke="#2e2e2e" stroke-width="1.0"/>
<line x1="473.50" y1="273.50" x2="473.50" y2="295.00" stroke="#2e2e2e" stroke-width="1.0"/>
<line x1="468.80" y1="263.40" x2="478.20" y2="263.40" stroke="#2e2e2e" stroke-width="1.0"/>
<line x1="468.80" y1="295.00" x2="478.20" y2="295.00" stroke="#2e2e2e" stroke-width="1.0"/>
<polyline points="345.20,242.30 345.20,235.90 473.50,235.90 473.50,242.30" fill="none" stroke="#6d6e71" stroke-width="1.15"/>
<circle cx="409.30" cy="231.30" r="1.3" fill="#2a2a2a"/>
<text x="296.20" y="299.20" font-size="9.3" text-anchor="middle" fill="#231f20" stroke="#231f20" font-weight="normal" textLength="67" lengthAdjust="spacingAndGlyphs" transform="rotate(-90 296.20 299.20)">Blood macrophages</text>
<text x="307.90" y="299.70" font-size="9.3" text-anchor="middle" fill="#231f20" stroke="#231f20" font-weight="normal" textLength="91.7" lengthAdjust="spacingAndGlyphs" transform="rotate(-90 307.90 299.70)">(% of total) BALB/c WT mice</text>
<text x="0" y="0" font-size="8.8" text-anchor="middle" fill="#231f20" stroke="#231f20" transform="translate(345.40 370.20) scale(0.9 1)">anti-TNP</text>
<text x="0" y="0" font-size="8.8" text-anchor="middle" fill="#231f20" stroke="#231f20" transform="translate(345.40 379.20) scale(0.9 1)">WT</text>
<text x="0" y="0" font-size="8.8" text-anchor="middle" fill="#231f20" stroke="#231f20" transform="translate(377.40 370.20) scale(0.9 1)">34-1-2S</text>
<text x="0" y="0" font-size="8.8" text-anchor="middle" fill="#231f20" stroke="#231f20" transform="translate(377.40 379.20) scale(0.9 1)">hIgG1</text>
<text x="0" y="0" font-size="8.8" text-anchor="middle" fill="#231f20" stroke="#231f20" transform="translate(409.40 370.20) scale(0.9 1)">34-1-2S</text>
<text x="0" y="0" font-size="8.8" text-anchor="middle" fill="#231f20" stroke="#231f20" transform="translate(409.40 379.20) scale(0.9 1)">K322A</text>
<text x="0" y="0" font-size="8.8" text-anchor="middle" fill="#231f20" stroke="#231f20" transform="translate(441.40 370.20) scale(0.9 1)">34-1-2S</text>
<text x="0" y="0" font-size="8.8" text-anchor="middle" fill="#231f20" stroke="#231f20" transform="translate(441.40 379.20) scale(0.9 1)">ΔG236</text>
<text x="0" y="0" font-size="8.8" text-anchor="middle" fill="#231f20" stroke="#231f20" transform="translate(473.40 370.20) scale(0.9 1)">34-1-2S</text>
<text x="0" y="0" font-size="8.8" text-anchor="middle" fill="#231f20" stroke="#231f20" transform="translate(473.40 379.20) scale(0.9 1)">PGLALA</text>
<text x="0" y="0" font-size="9.3" text-anchor="middle" fill="#fff" transform="translate(409.40 353.00) scale(0.82 1)">C1q-</text>
<text x="0" y="0" font-size="9.3" text-anchor="middle" fill="#fff" transform="translate(441.40 353.00) scale(0.82 1)">FcγR-</text>
<text x="0" y="0" font-size="9.3" text-anchor="middle" fill="#fff" transform="translate(473.40 343.60) scale(0.82 1)">C1q-</text>
<text x="0" y="0" font-size="9.3" text-anchor="middle" fill="#fff" transform="translate(473.40 353.20) scale(0.82 1)">FcγR-</text>
<text x="272.50" y="222.80" font-size="11.8" text-anchor="start" fill="#231f20" stroke="#231f20" font-weight="bold" style="stroke-width:0.5px">D</text>
<rect x="68.90" y="508.33" width="20.60" height="54.07" fill="#4d5b6b"/>
<rect x="100.50" y="534.15" width="20.60" height="28.25" fill="#5b216f"/>
<rect x="132.10" y="508.73" width="20.60" height="53.67" fill="#f8931c"/>
<rect x="163.70" y="529.31" width="20.60" height="33.09" fill="#978bc5"/>
<rect x="195.30" y="519.63" width="20.60" height="42.77" fill="#bc6a15"/>
<line x1="79.20" y1="492.59" x2="79.20" y2="523.26" stroke="#2e2e2e" stroke-width="1.0"/>
<line x1="74.95" y1="492.59" x2="83.45" y2="492.59" stroke="#2e2e2e" stroke-width="1.0"/>
<line x1="74.95" y1="523.26" x2="83.45" y2="523.26" stroke="#2e2e2e" stroke-width="1.0"/>
<line x1="110.80" y1="528.10" x2="110.80" y2="539.40" stroke="#2e2e2e" stroke-width="1.0"/>
<line x1="106.55" y1="528.10" x2="115.05" y2="528.10" stroke="#2e2e2e" stroke-width="1.0"/>
<line x1="142.40" y1="495.02" x2="142.40" y2="522.05" stroke="#2e2e2e" stroke-width="1.0"/>
<line x1="138.15" y1="495.02" x2="146.65" y2="495.02" stroke="#2e2e2e" stroke-width="1.0"/>
<line x1="138.15" y1="522.05" x2="146.65" y2="522.05" stroke="#2e2e2e" stroke-width="1.0"/>
<line x1="174.00" y1="520.44" x2="174.00" y2="537.38" stroke="#2e2e2e" stroke-width="1.0"/>
<line x1="169.75" y1="520.44" x2="178.25" y2="520.44" stroke="#2e2e2e" stroke-width="1.0"/>
<line x1="169.75" y1="537.38" x2="178.25" y2="537.38" stroke="#2e2e2e" stroke-width="1.0"/>
<line x1="205.60" y1="500.66" x2="205.60" y2="538.19" stroke="#2e2e2e" stroke-width="1.0"/>
<line x1="201.35" y1="500.66" x2="209.85" y2="500.66" stroke="#2e2e2e" stroke-width="1.0"/>
<line x1="201.35" y1="538.19" x2="209.85" y2="538.19" stroke="#2e2e2e" stroke-width="1.0"/>
<circle cx="79.10" cy="483.60" r="1.9" fill="#111"/>
<circle cx="79.10" cy="494.10" r="1.9" fill="#111"/>
<circle cx="75.90" cy="514.40" r="1.9" fill="#111"/>
<circle cx="82.60" cy="513.20" r="1.9" fill="#111"/>
<circle cx="75.90" cy="521.60" r="1.9" fill="#111"/>
<circle cx="82.60" cy="521.60" r="1.9" fill="#111"/>
<circle cx="110.80" cy="526.00" r="1.9" fill="#111"/>
<circle cx="107.80" cy="530.20" r="1.9" fill="#111"/>
<circle cx="114.10" cy="532.10" r="1.9" fill="#111"/>
<circle cx="104.30" cy="537.20" r="1.9" fill="#111"/>
<circle cx="110.10" cy="537.20" r="1.9" fill="#111"/>
<circle cx="116.00" cy="536.10" r="1.9" fill="#111"/>
<circle cx="142.00" cy="492.50" r="1.9" fill="#111"/>
<circle cx="142.00" cy="497.10" r="1.9" fill="#111"/>
<circle cx="142.00" cy="503.40" r="1.9" fill="#111"/>
<circle cx="142.00" cy="511.10" r="1.9" fill="#111"/>
<circle cx="142.00" cy="518.60" r="1.9" fill="#111"/>
<circle cx="142.00" cy="525.60" r="1.9" fill="#111"/>
<circle cx="173.70" cy="520.50" r="1.9" fill="#111"/>
<circle cx="173.70" cy="524.20" r="1.9" fill="#111"/>
<circle cx="167.20" cy="526.30" r="1.9" fill="#111"/>
<circle cx="180.00" cy="527.80" r="1.9" fill="#111"/>
<circle cx="173.70" cy="530.80" r="1.9" fill="#111"/>
<circle cx="173.70" cy="545.00" r="1.9" fill="#111"/>
<circle cx="205.00" cy="496.70" r="1.9" fill="#111"/>
<circle cx="202.00" cy="506.70" r="1.9" fill="#111"/>
<circle cx="208.30" cy="508.00" r="1.9" fill="#111"/>
<circle cx="205.00" cy="522.00" r="1.9" fill="#111"/>
<circle cx="205.00" cy="538.30" r="1.9" fill="#111"/>
<circle cx="205.00" cy="545.00" r="1.9" fill="#111"/>
<line x1="58.30" y1="562.40" x2="226.70" y2="562.40" stroke="#2e2e2e" stroke-width="1.3"/>
<line x1="58.30" y1="438.60" x2="58.30" y2="562.40" stroke="#2e2e2e" stroke-width="1.3"/>
<line x1="55.10" y1="562.40" x2="58.30" y2="562.40" stroke="#2e2e2e" stroke-width="1.1"/>
<text x="0" y="0" font-size="9.3" text-anchor="end" fill="#231f20" stroke="#231f20" transform="translate(52.30 565.20) scale(0.87 1)">0</text>
<line x1="55.10" y1="542.23" x2="58.30" y2="542.23" stroke="#2e2e2e" stroke-width="1.1"/>
<text x="0" y="0" font-size="9.3" text-anchor="end" fill="#231f20" stroke="#231f20" transform="translate(52.30 545.02) scale(0.87 1)">5</text>
<line x1="55.10" y1="522.05" x2="58.30" y2="522.05" stroke="#2e2e2e" stroke-width="1.1"/>
<text x="0" y="0" font-size="9.3" text-anchor="end" fill="#231f20" stroke="#231f20" transform="translate(52.30 524.85) scale(0.87 1)">10</text>
<line x1="55.10" y1="501.88" x2="58.30" y2="501.88" stroke="#2e2e2e" stroke-width="1.1"/>
<text x="0" y="0" font-size="9.3" text-anchor="end" fill="#231f20" stroke="#231f20" transform="translate(52.30 504.68) scale(0.87 1)">15</text>
<line x1="55.10" y1="481.70" x2="58.30" y2="481.70" stroke="#2e2e2e" stroke-width="1.1"/>
<text x="0" y="0" font-size="9.3" text-anchor="end" fill="#231f20" stroke="#231f20" transform="translate(52.30 484.50) scale(0.87 1)">20</text>
<line x1="55.10" y1="461.52" x2="58.30" y2="461.52" stroke="#2e2e2e" stroke-width="1.1"/>
<text x="0" y="0" font-size="9.3" text-anchor="end" fill="#231f20" stroke="#231f20" transform="translate(52.30 464.32) scale(0.87 1)">25</text>
<line x1="55.10" y1="441.35" x2="58.30" y2="441.35" stroke="#2e2e2e" stroke-width="1.1"/>
<text x="0" y="0" font-size="9.3" text-anchor="end" fill="#231f20" stroke="#231f20" transform="translate(52.30 444.15) scale(0.87 1)">30</text>
<line x1="79.20" y1="562.40" x2="79.20" y2="565.60" stroke="#2e2e2e" stroke-width="1.1"/>
<line x1="110.80" y1="562.40" x2="110.80" y2="565.60" stroke="#2e2e2e" stroke-width="1.1"/>
<line x1="142.40" y1="562.40" x2="142.40" y2="565.60" stroke="#2e2e2e" stroke-width="1.1"/>
<line x1="174.00" y1="562.40" x2="174.00" y2="565.60" stroke="#2e2e2e" stroke-width="1.1"/>
<line x1="205.60" y1="562.40" x2="205.60" y2="565.60" stroke="#2e2e2e" stroke-width="1.1"/>
<polyline points="78.60,461.70 78.60,456.80 110.10,456.80 110.10,461.70" fill="none" stroke="#6d6e71" stroke-width="1.15"/>
<circle cx="94.50" cy="452.30" r="1.3" fill="#2a2a2a"/>
<polyline points="111.70,461.70 111.70,456.80 139.70,456.80 139.70,461.70" fill="none" stroke="#6d6e71" stroke-width="1.15"/>
<circle cx="125.70" cy="452.30" r="1.3" fill="#2a2a2a"/>
<text x="26.30" y="500.50" font-size="9.3" text-anchor="middle" fill="#231f20" stroke="#231f20" font-weight="normal" textLength="64" lengthAdjust="spacingAndGlyphs" transform="rotate(-90 26.30 500.50)">Lung macrophages</text>
<text x="36.60" y="501.00" font-size="9.3" text-anchor="middle" fill="#231f20" stroke="#231f20" font-weight="normal" textLength="91" lengthAdjust="spacingAndGlyphs" transform="rotate(-90 36.60 501.00)">(% of total) BALB/c WT mice</text>
<text x="0" y="0" font-size="8.8" text-anchor="middle" fill="#231f20" stroke="#231f20" transform="translate(79.20 575.60) scale(0.9 1)">anti-TNP</text>
<text x="0" y="0" font-size="8.8" text-anchor="middle" fill="#231f20" stroke="#231f20" transform="translate(79.20 584.60) scale(0.9 1)">WT</text>
<text x="0" y="0" font-size="8.8" text-anchor="middle" fill="#231f20" stroke="#231f20" transform="translate(110.80 575.60) scale(0.9 1)">34-1-2S</text>
<text x="0" y="0" font-size="8.8" text-anchor="middle" fill="#231f20" stroke="#231f20" transform="translate(110.80 584.60) scale(0.9 1)">hIgG1</text>
<text x="0" y="0" font-size="8.8" text-anchor="middle" fill="#231f20" stroke="#231f20" transform="translate(142.40 575.60) scale(0.9 1)">34-1-2S</text>
<text x="0" y="0" font-size="8.8" text-anchor="middle" fill="#231f20" stroke="#231f20" transform="translate(142.40 584.60) scale(0.9 1)">K322A</text>
<text x="0" y="0" font-size="8.8" text-anchor="middle" fill="#231f20" stroke="#231f20" transform="translate(174.00 575.60) scale(0.9 1)">34-1-2S</text>
<text x="0" y="0" font-size="8.8" text-anchor="middle" fill="#231f20" stroke="#231f20" transform="translate(174.00 584.60) scale(0.9 1)">ΔG236</text>
<text x="0" y="0" font-size="8.8" text-anchor="middle" fill="#231f20" stroke="#231f20" transform="translate(205.60 575.60) scale(0.9 1)">34-1-2S</text>
<text x="0" y="0" font-size="8.8" text-anchor="middle" fill="#231f20" stroke="#231f20" transform="translate(205.60 584.60) scale(0.9 1)">PGLALA</text>
<text x="0" y="0" font-size="9.3" text-anchor="middle" fill="#fff" transform="translate(142.40 560.20) scale(0.82 1)">C1q-</text>
<text x="0" y="0" font-size="9.3" text-anchor="middle" fill="#fff" transform="translate(174.00 560.20) scale(0.82 1)">FcγR-</text>
<text x="0" y="0" font-size="9.3" text-anchor="middle" fill="#fff" transform="translate(205.60 551.60) scale(0.82 1)">C1q-</text>
<text x="0" y="0" font-size="9.3" text-anchor="middle" fill="#fff" transform="translate(205.60 559.60) scale(0.82 1)">FcγR-</text>
<text x="6.50" y="426.50" font-size="11.8" text-anchor="start" fill="#231f20" stroke="#231f20" font-weight="bold" style="stroke-width:0.5px">E</text>
<rect x="312.00" y="515.38" width="19.00" height="47.12" fill="#3baa35"/>
<rect x="340.90" y="533.02" width="19.20" height="29.48" fill="#d2072b"/>
<line x1="321.50" y1="482.36" x2="321.50" y2="549.14" stroke="#2e2e2e" stroke-width="1.0"/>
<line x1="317.25" y1="482.36" x2="325.75" y2="482.36" stroke="#2e2e2e" stroke-width="1.0"/>
<line x1="317.25" y1="549.14" x2="325.75" y2="549.14" stroke="#2e2e2e" stroke-width="1.0"/>
<line x1="350.50" y1="507.56" x2="350.50" y2="557.46" stroke="#2e2e2e" stroke-width="1.0"/>
<line x1="346.25" y1="507.56" x2="354.75" y2="507.56" stroke="#2e2e2e" stroke-width="1.0"/>
<line x1="346.25" y1="557.46" x2="354.75" y2="557.46" stroke="#2e2e2e" stroke-width="1.0"/>
<circle cx="321.00" cy="466.80" r="1.9" fill="#111"/>
<circle cx="321.00" cy="494.60" r="1.9" fill="#111"/>
<circle cx="317.70" cy="537.60" r="1.9" fill="#111"/>
<circle cx="324.70" cy="538.20" r="1.9" fill="#111"/>
<circle cx="317.70" cy="541.30" r="1.9" fill="#111"/>
<circle cx="350.20" cy="497.10" r="1.9" fill="#111"/>
<circle cx="350.20" cy="522.00" r="1.9" fill="#111"/>
<circle cx="350.20" cy="534.80" r="1.9" fill="#111"/>
<circle cx="350.20" cy="547.00" r="1.9" fill="#111"/>
<circle cx="350.20" cy="560.90" r="1.9" fill="#111"/>
<line x1="301.80" y1="562.50" x2="369.50" y2="562.50" stroke="#2e2e2e" stroke-width="1.3"/>
<line x1="301.80" y1="434.20" x2="301.80" y2="562.50" stroke="#2e2e2e" stroke-width="1.3"/>
<line x1="298.60" y1="562.50" x2="301.80" y2="562.50" stroke="#2e2e2e" stroke-width="1.1"/>
<text x="0" y="0" font-size="9.3" text-anchor="end" fill="#231f20" stroke="#231f20" transform="translate(296.50 565.30) scale(0.87 1)">0.0</text>
<line x1="298.60" y1="537.30" x2="301.80" y2="537.30" stroke="#2e2e2e" stroke-width="1.1"/>
<text x="0" y="0" font-size="9.3" text-anchor="end" fill="#231f20" stroke="#231f20" transform="translate(296.50 540.10) scale(0.87 1)">0.1</text>
<line x1="298.60" y1="512.10" x2="301.80" y2="512.10" stroke="#2e2e2e" stroke-width="1.1"/>
<text x="0" y="0" font-size="9.3" text-anchor="end" fill="#231f20" stroke="#231f20" transform="translate(296.50 514.90) scale(0.87 1)">0.2</text>
<line x1="298.60" y1="486.90" x2="301.80" y2="486.90" stroke="#2e2e2e" stroke-width="1.1"/>
<text x="0" y="0" font-size="9.3" text-anchor="end" fill="#231f20" stroke="#231f20" transform="translate(296.50 489.70) scale(0.87 1)">0.3</text>
<line x1="298.60" y1="461.70" x2="301.80" y2="461.70" stroke="#2e2e2e" stroke-width="1.1"/>
<text x="0" y="0" font-size="9.3" text-anchor="end" fill="#231f20" stroke="#231f20" transform="translate(296.50 464.50) scale(0.87 1)">0.4</text>
<line x1="298.60" y1="436.50" x2="301.80" y2="436.50" stroke="#2e2e2e" stroke-width="1.1"/>
<text x="0" y="0" font-size="9.3" text-anchor="end" fill="#231f20" stroke="#231f20" transform="translate(296.50 439.30) scale(0.87 1)">0.5</text>
<line x1="321.50" y1="562.50" x2="321.50" y2="565.70" stroke="#2e2e2e" stroke-width="1.1"/>
<line x1="350.50" y1="562.50" x2="350.50" y2="565.70" stroke="#2e2e2e" stroke-width="1.1"/>
<polyline points="321.30,458.30 321.30,452.70 351.10,452.70 351.10,458.30" fill="none" stroke="#6d6e71" stroke-width="1.15"/>
<text x="336.10" y="450.50" font-size="7.5" text-anchor="middle" fill="#414042" stroke="#414042" font-weight="normal">NS</text>
<text x="268.60" y="497.70" font-size="9.3" text-anchor="middle" fill="#231f20" stroke="#231f20" font-weight="normal" textLength="66.6" lengthAdjust="spacingAndGlyphs" transform="rotate(-90 268.60 497.70)">Blood macrophages</text>
<text x="279.30" y="497.50" font-size="9.3" text-anchor="middle" fill="#231f20" stroke="#231f20" font-weight="normal" textLength="97" lengthAdjust="spacingAndGlyphs" transform="rotate(-90 279.30 497.50)">(% of total) C5-deficient mice</text>
<text x="0" y="0" font-size="9" text-anchor="end" fill="#231f20" stroke="#231f20" transform="translate(324.70 572.30) rotate(-44) scale(0.88 1)">C1.18.4</text>
<text x="0" y="0" font-size="9" text-anchor="end" fill="#231f20" stroke="#231f20" transform="translate(353.70 572.30) rotate(-44) scale(0.88 1)">34-1-2S</text>
<text x="249.50" y="426.50" font-size="11.8" text-anchor="start" fill="#231f20" stroke="#231f20" font-weight="bold" style="stroke-width:0.5px">F</text>
<rect x="454.75" y="519.79" width="19.30" height="42.71" fill="#3baa35"/>
<rect x="483.90" y="516.13" width="18.40" height="46.37" fill="#d2072b"/>
<line x1="464.40" y1="490.05" x2="464.40" y2="548.14" stroke="#2e2e2e" stroke-width="1.0"/>
<line x1="460.15" y1="490.05" x2="468.65" y2="490.05" stroke="#2e2e2e" stroke-width="1.0"/>
<line x1="460.15" y1="548.14" x2="468.65" y2="548.14" stroke="#2e2e2e" stroke-width="1.0"/>
<line x1="493.10" y1="481.86" x2="493.10" y2="549.52" stroke="#2e2e2e" stroke-width="1.0"/>
<line x1="488.85" y1="481.86" x2="497.35" y2="481.86" stroke="#2e2e2e" stroke-width="1.0"/>
<line x1="488.85" y1="549.52" x2="497.35" y2="549.52" stroke="#2e2e2e" stroke-width="1.0"/>
<circle cx="464.60" cy="469.70" r="1.9" fill="#111"/>
<circle cx="464.60" cy="520.70" r="1.9" fill="#111"/>
<circle cx="464.60" cy="526.30" r="1.9" fill="#111"/>
<circle cx="461.20" cy="541.00" r="1.9" fill="#111"/>
<circle cx="467.80" cy="539.60" r="1.9" fill="#111"/>
<circle cx="493.30" cy="466.80" r="1.9" fill="#111"/>
<circle cx="493.30" cy="493.20" r="1.9" fill="#111"/>
<circle cx="493.30" cy="534.20" r="1.9" fill="#111"/>
<circle cx="493.30" cy="540.50" r="1.9" fill="#111"/>
<circle cx="493.30" cy="544.20" r="1.9" fill="#111"/>
<line x1="445.00" y1="562.50" x2="513.00" y2="562.50" stroke="#2e2e2e" stroke-width="1.3"/>
<line x1="445.00" y1="434.20" x2="445.00" y2="562.50" stroke="#2e2e2e" stroke-width="1.3"/>
<line x1="441.80" y1="562.50" x2="445.00" y2="562.50" stroke="#2e2e2e" stroke-width="1.1"/>
<text x="0" y="0" font-size="9.3" text-anchor="end" fill="#231f20" stroke="#231f20" transform="translate(439.20 565.30) scale(0.87 1)">0</text>
<line x1="441.80" y1="537.30" x2="445.00" y2="537.30" stroke="#2e2e2e" stroke-width="1.1"/>
<text x="0" y="0" font-size="9.3" text-anchor="end" fill="#231f20" stroke="#231f20" transform="translate(439.20 540.10) scale(0.87 1)">2</text>
<line x1="441.80" y1="512.10" x2="445.00" y2="512.10" stroke="#2e2e2e" stroke-width="1.1"/>
<text x="0" y="0" font-size="9.3" text-anchor="end" fill="#231f20" stroke="#231f20" transform="translate(439.20 514.90) scale(0.87 1)">4</text>
<line x1="441.80" y1="486.90" x2="445.00" y2="486.90" stroke="#2e2e2e" stroke-width="1.1"/>
<text x="0" y="0" font-size="9.3" text-anchor="end" fill="#231f20" stroke="#231f20" transform="translate(439.20 489.70) scale(0.87 1)">6</text>
<line x1="441.80" y1="461.70" x2="445.00" y2="461.70" stroke="#2e2e2e" stroke-width="1.1"/>
<text x="0" y="0" font-size="9.3" text-anchor="end" fill="#231f20" stroke="#231f20" transform="translate(439.20 464.50) scale(0.87 1)">8</text>
<line x1="441.80" y1="436.50" x2="445.00" y2="436.50" stroke="#2e2e2e" stroke-width="1.1"/>
<text x="0" y="0" font-size="9.3" text-anchor="end" fill="#231f20" stroke="#231f20" transform="translate(439.20 439.30) scale(0.87 1)">10</text>
<line x1="464.40" y1="562.50" x2="464.40" y2="565.70" stroke="#2e2e2e" stroke-width="1.1"/>
<line x1="493.10" y1="562.50" x2="493.10" y2="565.70" stroke="#2e2e2e" stroke-width="1.1"/>
<polyline points="463.20,458.30 463.20,452.10 491.60,452.10 491.60,458.30" fill="none" stroke="#6d6e71" stroke-width="1.15"/>
<text x="476.80" y="450.50" font-size="7.5" text-anchor="middle" fill="#414042" stroke="#414042" font-weight="normal">NS</text>
<text x="415.00" y="497.60" font-size="9.3" text-anchor="middle" fill="#231f20" stroke="#231f20" font-weight="normal" textLength="64" lengthAdjust="spacingAndGlyphs" transform="rotate(-90 415.00 497.60)">Lung macrophages</text>
<text x="425.00" y="498.50" font-size="9.3" text-anchor="middle" fill="#231f20" stroke="#231f20" font-weight="normal" textLength="99" lengthAdjust="spacingAndGlyphs" transform="rotate(-90 425.00 498.50)">(% of total) C5-deficient mice</text>
<text x="0" y="0" font-size="9" text-anchor="end" fill="#231f20" stroke="#231f20" transform="translate(467.60 572.30) rotate(-44) scale(0.88 1)">C1.18.4</text>
<text x="0" y="0" font-size="9" text-anchor="end" fill="#231f20" stroke="#231f20" transform="translate(496.30 572.30) rotate(-44) scale(0.88 1)">34-1-2S</text>
<text x="392.50" y="426.50" font-size="11.8" text-anchor="start" fill="#231f20" stroke="#231f20" font-weight="bold" style="stroke-width:0.5px">G</text>
<rect x="0.5" y="0.5" width="519" height="599" fill="none" stroke="#6e6e6e" stroke-width="1"/>
</svg>
</body></html>
